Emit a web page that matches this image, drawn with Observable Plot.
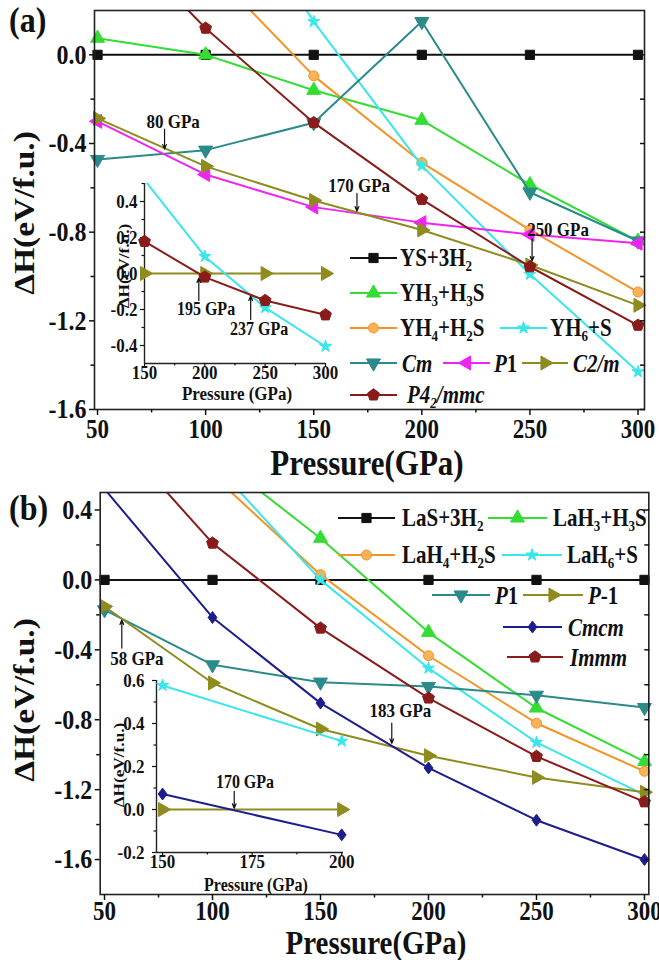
<!DOCTYPE html>
<html><head><meta charset="utf-8">
<script src="https://cdn.jsdelivr.net/npm/d3@7"></script>
<script src="https://cdn.jsdelivr.net/npm/@observablehq/plot@0.6"></script>
<style>
body{margin:0;background:#fff;}
#root{position:relative;width:659px;height:960px;overflow:hidden;background:#fff;}
.panel{position:absolute;left:0;width:659px;height:480px;}
.panel svg{position:absolute;overflow:visible;}
</style></head><body><div id="root"></div>
<script>
// ---------------- data ----------------
const pressure = [50, 100, 150, 200, 250, 300];
// panel (a) main
const ysA   = [0, 0, 0, 0, 0, 0];
const yh3A  = [0.075, 0.0, -0.16, -0.295, -0.585, -0.84];
const yh4A  = [null, 0.41, -0.095, -0.486, -0.79, -1.07];
const yh6A  = [null, 0.9, 0.15, -0.5, -0.99, -1.43];
const cmA   = [-0.472, -0.43, -0.306, 0.15, -0.62, -0.84];
const p1A   = [-0.30, -0.54, -0.687, -0.757, -0.81, -0.85];
const c2mA  = [-0.287, -0.503, -0.657, -0.79, -0.948, -1.13];
const p42A  = [0.62, 0.12, -0.306, -0.652, -0.956, -1.22];
// panel (a) inset
const pressureInA = [150, 200, 250, 300];
const c2mInA = [0, 0, 0, 0];
const yh6InA = [0.52, 0.095, -0.19, -0.405];
const p42InA = [0.178, -0.02, -0.15, -0.23];
// panel (b) main
const lasB  = [0, 0, 0, 0, 0, 0];
const lah3B = [null, 0.72, 0.238, -0.30, -0.733, -1.04];
const lah4B = [null, 0.6, 0.03, -0.434, -0.82, -1.095];
const lah6B = [null, 0.675, 0.0, -0.505, -0.93, -1.23];
const p1B   = [-0.171, -0.486, -0.585, -0.61, -0.66, -0.73];
const pm1B  = [-0.152, -0.59, -0.853, -1.006, -1.13, -1.215];
const cmcmB = [0.52, -0.215, -0.705, -1.076, -1.375, -1.6];
const immmB = [0.9, 0.21, -0.276, -0.676, -1.01, -1.27];
// panel (b) inset
const pressureInB = [150, 200];
const pm1InB  = [0, 0];
const cmcmInB = [0.072, -0.118];
const lah6InB = [0.577, 0.318];
// annotations (data coordinates)
const annA   = [{x: 81, y1: -0.335, y2: -0.425, tx: 85, ty: -0.30, label: "80 GPa"},
                {x: 170, y1: -0.625, y2: -0.705, tx: 171, ty: -0.59, label: "170 GPa"},
                {x: 251, y1: -0.83, y2: -0.93, tx: 263, ty: -0.79, label: "250 GPa"}];
const annInA = [{x: 195, y1: -0.15, y2: -0.025, tx: 201, ty: -0.195, label: "195 GPa"},
                {x: 238, y1: -0.255, y2: -0.125, tx: 245, ty: -0.31, label: "237 GPa"}];
const annB   = [{x: 58, y1: -0.39, y2: -0.23, tx: 65, ty: -0.45, label: "58 GPa"},
                {x: 183, y1: -0.82, y2: -0.935, tx: 187, ty: -0.75, label: "183 GPa"}];
const annInB = [{x: 170, y1: 0.085, y2: 0.006, tx: 173, ty: 0.13, label: "170 GPa"}];
// ticks
const xMajor = [50, 100, 150, 200, 250, 300];
const xMinor = [75, 125, 175, 225, 275];
const yMajorA = [0, -0.4, -0.8, -1.2, -1.6];
const yMinorA = [-0.2, -0.6, -1.0, -1.4];
const yMajorB = [0.4, 0, -0.4, -0.8, -1.2, -1.6];
const yMinorB = [0.2, -0.2, -0.6, -1.0, -1.4];
const yInMajorA = [0.4, 0.2, 0, -0.2, -0.4];
const yInMinorA = [0.5, 0.3, 0.1, -0.1, -0.3];
const xInMajorA = [150, 200, 250, 300];
const xInMinorA = [175, 225, 275];
const yInMajorB = [0.6, 0.4, 0.2, 0, -0.2];
const yInMinorB = [0.5, 0.3, 0.1, -0.1];
const xInMajorB = [150, 175, 200];
const xInMinorB = [162.5, 187.5];

// ---------------- styles ----------------
const FONT = '"Liberation Serif","Times New Roman",serif';
const STRETCH = 1.15;
const C = {black:"#111111", green:"#33dd33", orange:"#f39427", cyan:"#3ae6ea", teal:"#2b8a8a",
           magenta:"#f024f0", olive:"#8e8c1e", maroon:"#8a1b1b", navy:"#1d1d8e"};
const SQ3 = Math.sqrt(3);
function rotTri(deg){
  const a = deg*Math.PI/180, c = Math.cos(a), s = Math.sin(a);
  return {draw(ctx, size){
    const y = -Math.sqrt(size/(SQ3*3));
    [[0, y*2], [-SQ3*y, -y], [SQ3*y, -y]].forEach(([px, py], i) => {
      const X = px*c - py*s, Y = px*s + py*c; i ? ctx.lineTo(X, Y) : ctx.moveTo(X, Y);
    });
    ctx.closePath();
  }};
}
const pentagon = {draw(ctx, size){
  const r = Math.sqrt(size/(2.5*Math.sin(2*Math.PI/5)));
  for (let i = 0; i < 5; i++){ const a = -Math.PI/2 + i*2*Math.PI/5;
    const X = r*Math.cos(a), Y = r*Math.sin(a); i ? ctx.lineTo(X, Y) : ctx.moveTo(X, Y); }
  ctx.closePath();
}};
const rhombus = {draw(ctx, size){
  const h = Math.sqrt(size/0.85), w = h*0.85;
  ctx.moveTo(0, -h/2*1.15); ctx.lineTo(w/2, 0); ctx.lineTo(0, h/2*1.15); ctx.lineTo(-w/2, 0); ctx.closePath();
}};
const SYM = {sq: d3.symbolSquare, ci: d3.symbolCircle, st: d3.symbolStar, tu: d3.symbolTriangle,
             td: rotTri(180), tl: rotTri(-90), tr: rotTri(90), pe: pentagon, di: rhombus};

const S = {
  ys:   {color: C.black,   sym: SYM.sq, r: 5.2},
  yh3:  {color: C.green,   sym: SYM.tu, r: 5.2},
  yh4:  {color: C.orange,  sym: SYM.ci, r: 5, fill: "#f7b25a"},
  yh6:  {color: C.cyan,    sym: SYM.st, r: 3.8},
  cm:   {color: C.teal,    sym: SYM.td, r: 5.2},
  p1:   {color: C.magenta, sym: SYM.tl, r: 5.2},
  c2m:  {color: C.olive,   sym: SYM.tr, r: 5.2},
  p42:  {color: C.maroon,  sym: SYM.pe, r: 5.4},
  cmcm: {color: C.navy,    sym: SYM.di, r: 5.4}
};

const baseStyle = {fontFamily: FONT, fontWeight: "bold", background: "transparent", overflow: "visible", color: "#111"};

function seriesMarks(xs, list, ydom){
  return list.flatMap(([key, vals]) => {
    const s = S[key];
    const rows = xs.map((x, i) => ({x, y: vals[i]})).filter(d => d.y != null);
    const vis = rows.filter(d => d.y >= ydom[0] - 1e-9 && d.y <= ydom[1] + 1e-9);
    return [
      Plot.line(rows, {x: "x", y: "y", stroke: s.color, strokeWidth: 2, clip: true}),
      Plot.dot(vis, {x: "x", y: "y", symbol: s.sym, r: s.r, fill: s.fill || s.color, stroke: s.color, strokeWidth: 1})
    ];
  });
}
function annMarks(ann, fs){
  return [
    Plot.arrow(ann, {x1: "x", x2: "x", y1: "y1", y2: "y2", stroke: "#111", strokeWidth: 1.2, headLength: 6, headAngle: 45}),
    Plot.text(ann, {x: "tx", y: "ty", text: "label", fontSize: fs, fontWeight: "bold", fill: "#111"})
  ];
}
const fmt1 = d => (+d).toFixed(1);
const blank = () => "";

function mainAxes(yMajor, yMinor, xpad){
  const all = [...yMajor, ...yMinor];
  return [
    Plot.frame({stroke: "#222", strokeWidth: 1.6}),
    Plot.axisX(xMajor, {tickSize: 6, tickPadding: xpad, tickFormat: d => String(d), fontSize: 23, label: null, strokeWidth: 1.5}),
    Plot.axisX(xMinor, {tickSize: 3.5, tickFormat: blank, label: null, strokeWidth: 1.5}),
    Plot.axisY(yMajor, {tickSize: 5, tickPadding: 3, tickFormat: fmt1, fontSize: 24, label: null, strokeWidth: 1.5}),
    Plot.axisY(yMinor, {tickSize: 3.5, tickFormat: blank, label: null, strokeWidth: 1.5}),
    Plot.axisY(all, {anchor: "right", tickSize: 5, dx: -5, tickFormat: blank, label: null, strokeWidth: 1.5})
  ];
}
function insetAxes(xMaj, xMin, yMaj, yMin, xd, yd, fs, ypad){
  return [
    Plot.ruleX([xd[0]], {stroke: "#222", strokeWidth: 1.4}),
    Plot.ruleY([yd[0]], {stroke: "#222", strokeWidth: 1.4}),
    Plot.axisX(xMaj, {tickSize: 4, tickFormat: blank, label: null, strokeWidth: 1.2}),
    Plot.axisX(xMin, {tickSize: 2.5, tickFormat: blank, label: null, strokeWidth: 1.2}),
    Plot.axisX(xMaj, {tickSize: 0, tickPadding: 3, tickFormat: d => String(d), fontSize: fs, label: null}),
    Plot.axisY(yMaj, {tickSize: 4, tickFormat: blank, label: null, strokeWidth: 1.2}),
    Plot.axisY(yMin, {tickSize: 2.5, tickFormat: blank, label: null, strokeWidth: 1.2}),
    Plot.axisY(yMaj, {tickSize: 0, tickPadding: ypad, tickFormat: fmt1, fontSize: fs, label: null})
  ];
}

// ---------------- build ----------------
const root = document.getElementById("root");
function panel(top){ const d = document.createElement("div"); d.className = "panel"; d.style.top = top + "px"; root.appendChild(d); return d; }
function place(el, left, top){ el.style.left = left + "px"; el.style.top = top + "px"; return el; }

// Panel (a)
const pa = panel(0);
const yDomA = [-1.6, 0.2];
const mainA = Plot.plot({
  width: 659, height: 480, marginLeft: 94, marginRight: 15, marginTop: 10, marginBottom: 71,
  x: {domain: [48.6, 303]}, y: {domain: yDomA}, style: baseStyle,
  marks: [
    ...seriesMarks(pressure, [["ys", ysA], ["yh3", yh3A], ["yh4", yh4A], ["yh6", yh6A], ["cm", cmA],
                              ["p1", p1A], ["c2m", c2mA], ["p42", p42A]], yDomA),
    ...annMarks(annA, 17),
    ...mainAxes(yMajorA, yMinorA, 5)
  ]
});
pa.appendChild(place(mainA, 0, 0));
const inDomA = [-0.5, 0.5];
const insetA = Plot.plot({
  width: 251, height: 225, marginLeft: 50, marginRight: 20, marginTop: 5, marginBottom: 40,
  x: {domain: [150, 300]}, y: {domain: inDomA}, style: baseStyle,
  marks: [
    ...insetAxes(xInMajorA, xInMinorA, yInMajorA, yInMinorA, [150, 300], inDomA, 17, 7),
    ...seriesMarks(pressureInA, [["c2m", c2mInA], ["yh6", yh6InA], ["p42", p42InA]], inDomA),
    ...annMarks(annInA, 16)
  ]
});
pa.appendChild(place(insetA, 94, 178));

// Panel (b)
const pb = panel(480);
const yDomB = [-1.8, 0.5];
const mainB = Plot.plot({
  width: 659, height: 480, marginLeft: 99.7, marginRight: 10.7, marginTop: 12, marginBottom: 66,
  x: {domain: [48, 302]}, y: {domain: yDomB}, style: baseStyle,
  marks: [
    ...seriesMarks(pressure, [["ys", lasB], ["yh3", lah3B], ["yh4", lah4B], ["yh6", lah6B], ["cm", p1B],
                              ["c2m", pm1B], ["cmcm", cmcmB], ["p42", immmB]], yDomB),
    ...annMarks(annB, 17),
    ...mainAxes(yMajorB, yMinorB, 2)
  ]
});
pb.appendChild(place(mainB, 0, 0));
const inDomB = [-0.2, 0.6];
const insetB = Plot.plot({
  width: 257, height: 217, marginLeft: 50, marginRight: 20, marginTop: 5, marginBottom: 40,
  x: {domain: [148.3, 200.5]}, y: {domain: inDomB}, style: baseStyle,
  marks: [
    ...insetAxes(xInMajorB, xInMinorB, yInMajorB, yInMinorB, [148.3, 200.5], inDomB, 17, 12),
    ...seriesMarks(pressureInB, [["c2m", pm1InB], ["cmcm", cmcmInB], ["yh6", lah6InB]], inDomB),
    ...annMarks(annInB, 16)
  ]
});
pb.appendChild(place(insetB, 106, 195));

// ---------------- overlay text & legends ----------------
function overlay(parent){
  return d3.select(parent).append("svg").attr("width", 659).attr("height", 480)
    .style("left", "0px").style("top", "0px").style("pointer-events", "none")
    .attr("font-family", FONT).attr("font-weight", "bold").attr("fill", "#111");
}
function rich(g, x, y, parts, size, anchor, rotate){
  const t = g.append("text").attr("font-size", size).attr("text-anchor", anchor || "start")
    .attr("dominant-baseline", "central");
  if (rotate) t.attr("transform", `translate(${x},${y}) rotate(${rotate})`).attr("data-rot", 1);
  else t.attr("x", x).attr("y", y);
  let shift = 0;
  for (const p of parts){
    const sp = t.append("tspan").text(p.t);
    if (p.i) sp.attr("font-style", "italic");
    const target = p.sub ? size*0.32 : 0;
    if (target !== shift){ sp.attr("dy", target - shift); shift = target; }
    if (p.sub) sp.attr("font-size", size*0.62);
  }
  return t;
}
function legendItem(g, key, x1, x2, y, tx, parts){
  const s = S[key];
  g.append("line").attr("x1", x1).attr("x2", x2).attr("y1", y).attr("y2", y).attr("stroke", s.color).attr("stroke-width", 2);
  g.append("path").attr("d", d3.symbol().type(s.sym).size(Math.PI*s.r*s.r)())
    .attr("transform", `translate(${(x1+x2)/2},${y})`).attr("fill", s.fill || s.color).attr("stroke", s.color);
  rich(g, tx, y, parts, 21);
}
const sub = t => ({t, sub: 1});
const T = t => ({t});
const I = t => ({t, i: 1});

const oa = overlay(pa);
rich(oa, 9, 19, [T("(a)")], 32);
rich(oa, 24, 213, [T("ΔH(eV/f.u.)")], 29, "middle", -90);
rich(oa, 367, 462, [T("Pressure(GPa)")], 31, "middle");
rich(oa, 123, 266, [T("ΔH(eV/f.u.)")], 15, "middle", -90);
rich(oa, 237, 394, [T("Pressure (GPa)")], 17, "middle");
legendItem(oa, "ys", 350, 397, 258, 400, [T("YS+3H"), sub("2")]);
legendItem(oa, "yh3", 350, 397, 293, 400, [T("YH"), sub("3"), T("+H"), sub("3"), T("S")]);
legendItem(oa, "yh4", 350, 397, 328, 400, [T("YH"), sub("4"), T("+H"), sub("2"), T("S")]);
legendItem(oa, "yh6", 500, 547, 328, 550, [T("YH"), sub("6"), T("+S")]);
legendItem(oa, "cm", 350, 397, 363, 402, [I("Cm")]);
legendItem(oa, "p1", 443, 490, 363, 494, [I("P"), T("1")]);
legendItem(oa, "c2m", 522, 568, 363, 573, [I("C2/m")]);
legendItem(oa, "p42", 350, 397, 395, 407, [I("P4"), {t: "2", sub: 1, i: 1}, I("/mmc")]);

const ob = overlay(pb);
rich(ob, 9, 27, [T("(b)")], 32);
rich(ob, 24, 220, [T("ΔH(eV/f.u.)")], 29, "middle", -90);
rich(ob, 376, 462, [T("Pressure(GPa)")], 29, "middle");
rich(ob, 118, 285, [T("ΔH(eV/f.u.)")], 15, "middle", -90);
rich(ob, 256, 405, [T("Pressure (GPa)")], 16, "middle");
legendItem(ob, "ys", 338, 395, 38, 402, [T("LaS+3H"), sub("2")]);
legendItem(ob, "yh3", 488, 547, 38, 553, [T("LaH"), sub("3"), T("+H"), sub("3"), T("S")]);
legendItem(ob, "yh4", 338, 395, 75, 402, [T("LaH"), sub("4"), T("+H"), sub("2"), T("S")]);
legendItem(ob, "yh6", 502, 562, 75, 567, [T("LaH"), sub("6"), T("+S")]);
legendItem(ob, "cm", 432, 490, 115, 495, [I("P"), T("1")]);
legendItem(ob, "c2m", 523, 583, 115, 588, [I("P"), T("-1")]);
legendItem(ob, "cmcm", 503, 562, 147, 568, [I("Cmcm")]);
legendItem(ob, "p42", 507, 563, 177, 570, [I("Immm")]);

// the reference figure's lettering is vertically elongated: stretch each text about its centre
document.querySelectorAll("#root svg text").forEach(t => {
  const b = t.getBBox();
  if (!b.width) return;
  const tr = t.getAttribute("transform") || "";
  if (t.getAttribute("data-rot")) {
    const cx = b.x + b.width/2;
    t.setAttribute("transform", `${tr} translate(${cx},0) scale(${STRETCH},1) translate(${-cx},0)`);
  } else {
    const cy = b.y + b.height/2;
    t.setAttribute("transform", `${tr} translate(0,${cy}) scale(1,${STRETCH}) translate(0,${-cy})`);
  }
});
</script></body></html>
